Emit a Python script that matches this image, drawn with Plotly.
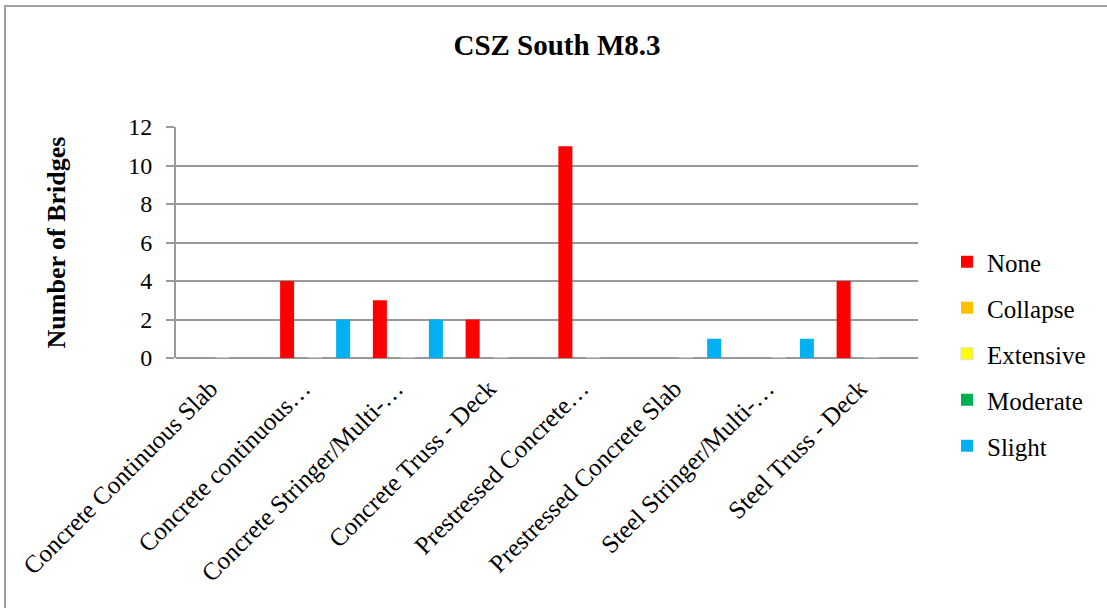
import plotly.graph_objects as go

# Bridge categories (labels as shown on the axis, long names shortened)
categories = [
    "Concrete Continuous Slab",
    "Concrete continuous…",
    "Concrete Stringer/Multi-…",
    "Concrete Truss - Deck",
    "Prestressed Concrete…",
    "Prestressed Concrete Slab",
    "Steel Stringer/Multi-…",
    "Steel Truss - Deck",
]

# Number of bridges per damage state
none_counts = [0, 4, 3, 2, 11, 0, 0, 4]
collapse_counts = [0, 0, 0, 0, 0, 0, 0, 0]
extensive_counts = [0, 0, 0, 0, 0, 0, 0, 0]
moderate_counts = [0, 0, 0, 0, 0, 0, 0, 0]
slight_counts = [0, 2, 2, 0, 0, 1, 1, 0]

y_ticks = [0, 2, 4, 6, 8, 10, 12]

series = [
    ("None", none_counts, "#FF0000", None),
    ("Collapse", collapse_counts, "#FFC000", None),
    ("Extensive", extensive_counts, "#FFFF00", "#D9D9D9"),
    ("Moderate", moderate_counts, "#00B050", None),
    ("Slight", slight_counts, "#00B0F0", None),
]

FONT = "Liberation Serif"
GRID = "#999999"

fig = go.Figure()
for name, vals, color, outline in series:
    marker = dict(color=color)
    if outline:
        marker["line"] = dict(color=outline, width=1)
    else:
        marker["line"] = dict(width=0)
    fig.add_trace(go.Bar(x=categories, y=vals, name=name, marker=marker,
                         legendgroup=name))

W, H = 1107, 608
L, R, T, B = 176, 918, 127, 358

fig.update_layout(
    width=W, height=H,
    margin=dict(l=L, r=W - R, t=T, b=H - B, autoexpand=False),
    paper_bgcolor="white", plot_bgcolor="white",
    barmode="group", bargap=0.245, bargroupgap=0,
    font=dict(family=FONT, size=24, color="black"),
    title=dict(text="<b>CSZ South M8.3</b>", font=dict(size=29, family=FONT),
               x=557 / W, xref="container", xanchor="center",
               y=1 - 45 / H, yref="container", yanchor="middle"),
    legend=dict(x=947 / W, xref="container", xanchor="left",
                y=1 - 354 / H, yref="container", yanchor="middle",
                font=dict(size=25, family=FONT, color="black"), tracegroupgap=10.5,
                bgcolor="rgba(0,0,0,0)"),
    showlegend=True,
)

fig.update_xaxes(
    type="category", tickangle=-45, showgrid=False,
    showline=False, ticks="", tickfont=dict(size=25, family=FONT, color="black"),
    ticklabelstandoff=10, ticklabelshift=-12,
    automargin=False,
)
fig.update_yaxes(
    range=[0, 12], tickvals=y_ticks, showgrid=True, gridcolor=GRID, gridwidth=1.5,
    showline=True, linecolor=GRID, linewidth=2, ticks="outside", ticklen=8,
    tickcolor=GRID, tickwidth=1.5, ticklabelstandoff=9,
    zeroline=True, zerolinecolor=GRID, zerolinewidth=2,
    tickfont=dict(size=24, family=FONT, color="black"),
    title=dict(text="<b>Number of Bridges</b>", font=dict(size=26, family=FONT),
               standoff=55),
    automargin=False,
)

# Chart-area frame
pw, ph = R - L, B - T
fig.add_shape(type="rect", xref="paper", yref="paper",
              x0=(5 - L) / pw, x1=(W + 5 - L) / pw,
              y0=(B - (H + 5)) / ph, y1=(B - 6) / ph,
              line=dict(color="#A0A0A0", width=2), fillcolor="rgba(0,0,0,0)",
              layer="below")

fig.write_html("out.html")
